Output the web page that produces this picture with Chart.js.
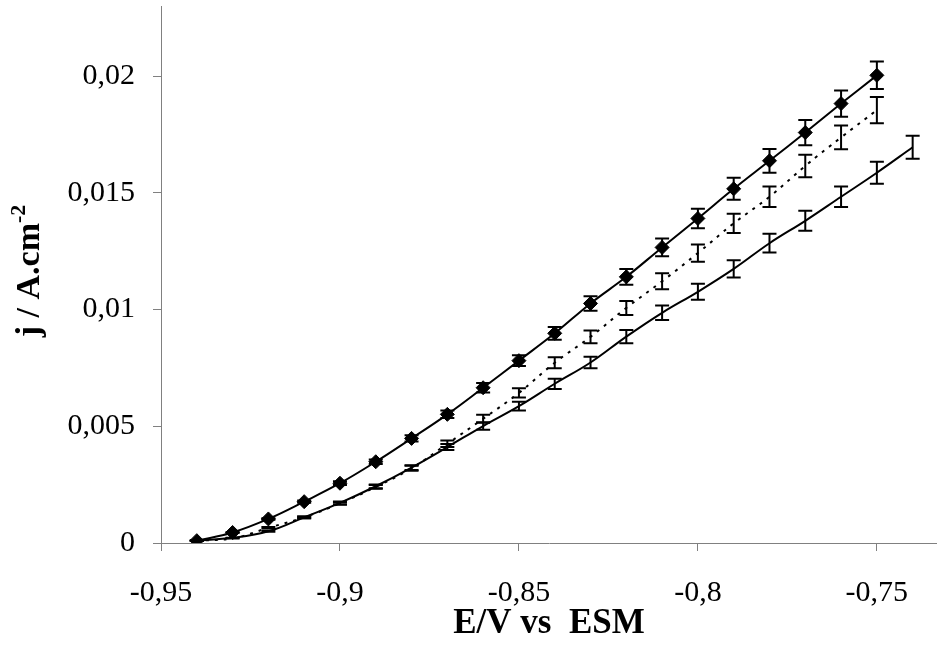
<!DOCTYPE html>
<html>
<head>
<meta charset="utf-8">
<script src="https://cdn.jsdelivr.net/npm/chart.js@4/dist/chart.umd.min.js"></script>
<style>
  body { margin: 0; background: #fff; }
  #wrap { width: 937px; height: 650px; }
</style>
</head>
<body>
<div id="wrap"><canvas id="chart"></canvas></div>
<script>
// potentials (V vs ESM)
const potential = [-0.94, -0.93, -0.92, -0.91, -0.90, -0.89, -0.88, -0.87, -0.86, -0.85,
                   -0.84, -0.83, -0.82, -0.81, -0.80, -0.79, -0.78, -0.77, -0.76, -0.75];
const potentialLong = [-0.94, -0.93, -0.92, -0.91, -0.90, -0.89, -0.88, -0.87, -0.86, -0.85,
                       -0.84, -0.83, -0.82, -0.81, -0.80, -0.79, -0.78, -0.77, -0.76, -0.75, -0.74];

// current densities (A/cm2)
const jDiamond = [0.0001, 0.00045, 0.00103, 0.00177, 0.00256, 0.00348, 0.00448, 0.00551, 0.00665, 0.00781,
                  0.00898, 0.01026, 0.01140, 0.01266, 0.01390, 0.01517, 0.01637, 0.01758, 0.01882, 0.02003];
const jDiamondErr = [0.00001, 0.00002, 0.00003, 0.00005, 0.00008, 0.0001, 0.00013, 0.00016, 0.0002, 0.00023,
                     0.00027, 0.00031, 0.00034, 0.00038, 0.00042, 0.00047, 0.00051, 0.00054, 0.00056, 0.00059];

const jDotted = [0.0001, 0.0002, 0.00065, 0.0011, 0.0017, 0.0024, 0.0032, 0.00425, 0.00532, 0.00643,
                 0.00772, 0.00883, 0.01007, 0.01121, 0.01242, 0.01369, 0.01483, 0.01615, 0.01737, 0.01854];
const jDottedErr = [0.00001, 0.00001, 0.00003, 0.00004, 0.00006, 0.00008, 0.00011, 0.00014, 0.00017, 0.0002,
                    0.00024, 0.00027, 0.0003, 0.00034, 0.00037, 0.00041, 0.00044, 0.00048, 0.00051, 0.00056];

const jSolid = [0.0001, 0.00022, 0.0005, 0.0011, 0.00172, 0.00243, 0.00323, 0.00411, 0.00501, 0.00586,
                0.00682, 0.00773, 0.00884, 0.00986, 0.01076, 0.01174, 0.01284, 0.0138, 0.01483, 0.01586, 0.01695];
const jSolidErr = [0.00001, 0.00001, 0.00002, 0.00004, 0.00006, 0.00008, 0.0001, 0.00013, 0.00016, 0.00019,
                   0.00022, 0.00025, 0.00028, 0.00031, 0.00034, 0.00037, 0.0004, 0.00043, 0.00044, 0.00047, 0.00049];

const xTicks = [-0.95, -0.9, -0.85, -0.8, -0.75];
const xTickLabels = ['-0,95', '-0,9', '-0,85', '-0,8', '-0,75'];
const yTicks = [0, 0.005, 0.01, 0.015, 0.02];
const yTickLabels = ['0', '0,005', '0,01', '0,015', '0,02'];

const SERIF = "'Liberation Serif', 'Times New Roman', serif";

function pairs(xs, ys) {
    return xs.map((x, i) => ({ x: x, y: ys[i] }));
}

const errorBars = {
    id: 'errorBars',
    afterDatasetsDraw(chart) {
        const ctx = chart.ctx;
        const sx = chart.scales.x;
        const sy = chart.scales.y;
        chart.data.datasets.forEach(ds => {
            if (!ds.errors) return;
            ctx.save();
            ctx.strokeStyle = '#000';
            ctx.lineWidth = 2;
            ds.data.forEach((p, i) => {
                const e = ds.errors[i];
                const px = sx.getPixelForValue(p.x);
                const top = sy.getPixelForValue(p.y + e);
                const bot = sy.getPixelForValue(p.y - e);
                ctx.beginPath();
                ctx.moveTo(px, top); ctx.lineTo(px, bot);
                ctx.moveTo(px - 7, top); ctx.lineTo(px + 7, top);
                ctx.moveTo(px - 7, bot); ctx.lineTo(px + 7, bot);
                ctx.stroke();
            });
            ctx.restore();
        });
    }
};

const yTitle = {
    id: 'yTitle',
    afterDraw(chart) {
        const ctx = chart.ctx;
        ctx.save();
        ctx.translate(39, 271);
        ctx.rotate(-Math.PI / 2);
        ctx.fillStyle = '#000';
        ctx.textBaseline = 'alphabetic';
        const main = 'j / A.cm';
        const sup = '-2';
        ctx.font = 'bold 34px ' + SERIF;
        const w1 = ctx.measureText(main).width;
        ctx.font = 'bold 22px ' + SERIF;
        const w2 = ctx.measureText(sup).width;
        const start = -(w1 + w2) / 2;
        ctx.font = 'bold 34px ' + SERIF;
        ctx.fillText(main, start, 0);
        ctx.font = 'bold 22px ' + SERIF;
        ctx.fillText(sup, start + w1, -14);
        ctx.restore();
    }
};

new Chart(document.getElementById('chart').getContext('2d'), {
    type: 'scatter',
    data: {
        datasets: [
            {
                data: pairs(potential, jDiamond),
                errors: jDiamondErr,
                showLine: true,
                borderColor: '#000',
                backgroundColor: '#000',
                borderWidth: 2,
                tension: 0.4,
                pointStyle: 'rectRot',
                pointRadius: 7,
                pointBorderWidth: 1
            },
            {
                data: pairs(potential, jDotted),
                errors: jDottedErr,
                showLine: true,
                borderColor: '#000',
                borderWidth: 2,
                borderDash: [3, 6],
                tension: 0.4,
                pointRadius: 0
            },
            {
                data: pairs(potentialLong, jSolid),
                errors: jSolidErr,
                showLine: true,
                borderColor: '#000',
                borderWidth: 2,
                tension: 0.4,
                pointRadius: 0
            }
        ]
    },
    options: {
        responsive: true,
        maintainAspectRatio: false,
        animation: false,
        layout: { autoPadding: false, padding: { top: 6, right: 0, left: 0, bottom: 0 } },
        plugins: {
            legend: { display: false },
            tooltip: { enabled: false }
        },
        scales: {
            x: {
                type: 'linear',
                min: -0.95,
                max: -0.7332,
                afterBuildTicks: scale => { scale.ticks = xTicks.map(v => ({ value: v })); },
                afterFit: scale => {
                    scale.height = 107;
                    scale.paddingLeft = 0;
                    scale.paddingRight = 0;
                },
                border: { color: '#808080', width: 1 },
                grid: { drawOnChartArea: false, drawTicks: true, tickLength: 8, color: '#808080' },
                ticks: {
                    color: '#000',
                    padding: 24,
                    maxRotation: 0,
                    font: { family: SERIF, size: 30 },
                    callback: (v) => xTickLabels[xTicks.findIndex(t => Math.abs(t - v) < 1e-9)]
                },
                title: {
                    display: true,
                    text: 'E/V vs  ESM',
                    color: '#000',
                    font: { family: SERIF, size: 35, weight: 'bold' },
                    padding: { top: 0, bottom: 5 }
                }
            },
            y: {
                type: 'linear',
                min: 0,
                max: 0.023,
                afterBuildTicks: scale => { scale.ticks = yTicks.map(v => ({ value: v })); },
                afterFit: scale => {
                    scale.width = 161;
                    scale.paddingTop = 0;
                    scale.paddingBottom = 0;
                },
                border: { color: '#808080', width: 1 },
                grid: { drawOnChartArea: false, drawTicks: true, tickLength: 8, color: '#808080' },
                ticks: {
                    color: '#000',
                    padding: 18,
                    font: { family: SERIF, size: 30 },
                    callback: (v) => yTickLabels[yTicks.findIndex(t => Math.abs(t - v) < 1e-9)]
                }
            }
        }
    },
    plugins: [errorBars, yTitle]
});
</script>
</body>
</html>
